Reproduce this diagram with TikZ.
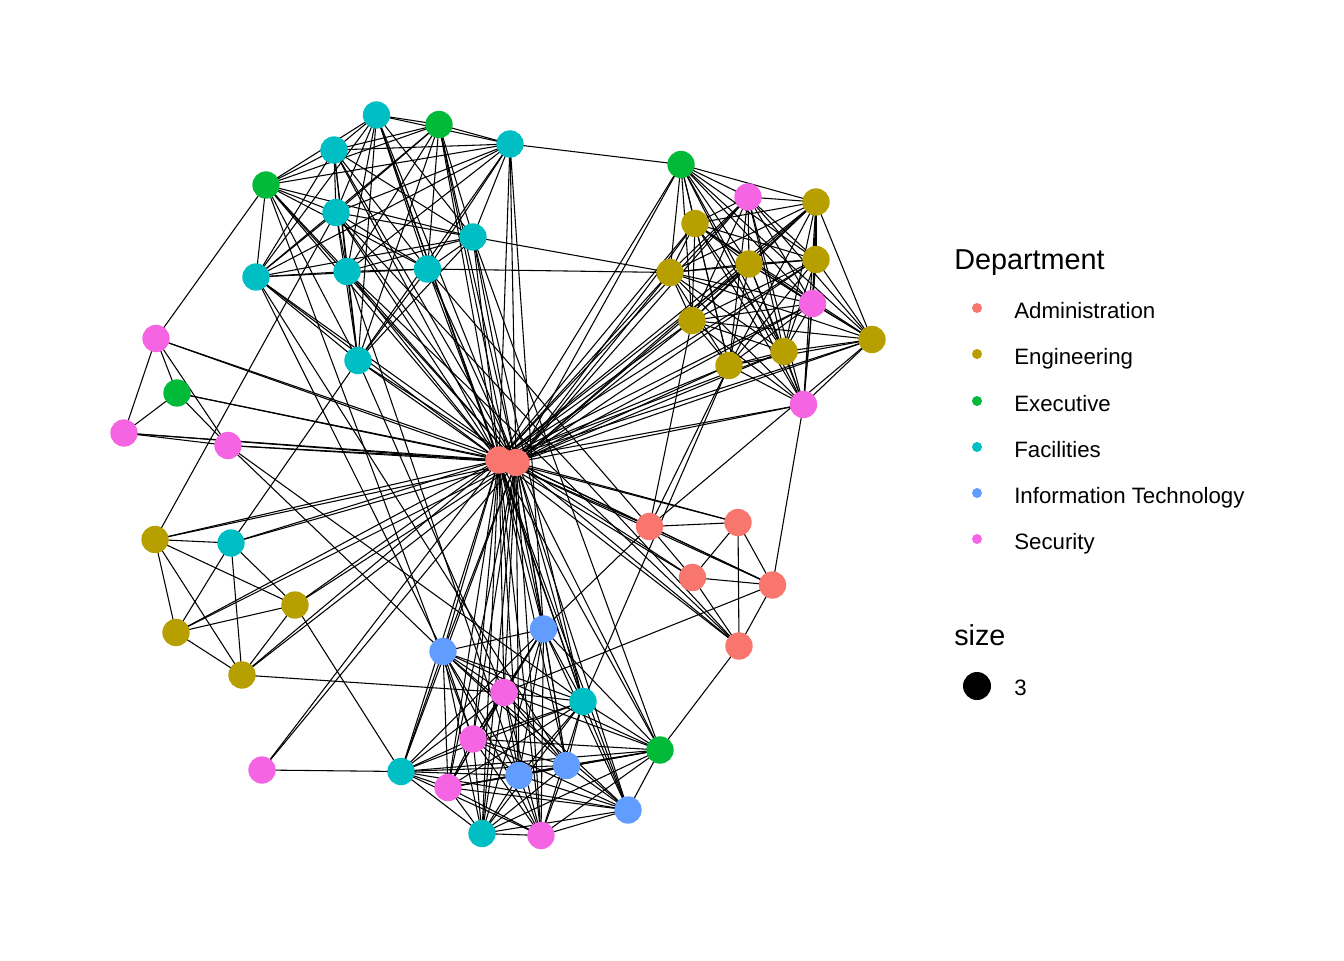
\documentclass[tikz,border=0pt]{standalone}
\usepackage{fontspec}
\setmainfont{Liberation Sans}
\usetikzlibrary{backgrounds}
\definecolor{cadm}{HTML}{F8766D}
\definecolor{ceng}{HTML}{B79F00}
\definecolor{cexe}{HTML}{00BA38}
\definecolor{cfac}{HTML}{00BFC4}
\definecolor{cit}{HTML}{619CFF}
\definecolor{csec}{HTML}{F564E3}
\newcommand\myclique[1]{\foreach \a [count=\i] in {#1} {\foreach \b [count=\j] in {#1} {\ifnum\i<\j \draw[edge] (\a.center) -- (\b.center);\fi}}}
\begin{document}
\begin{tikzpicture}[x=0.75pt,y=-0.75pt,
  vtx/.style={circle,inner sep=0pt,minimum size=20.5pt,draw=none},
  adm/.style={vtx,fill=cadm}, eng/.style={vtx,fill=ceng}, exe/.style={vtx,fill=cexe},
  fac/.style={vtx,fill=cfac}, itn/.style={vtx,fill=cit}, sec/.style={vtx,fill=csec},
  edge/.style={black,line width=0.8pt},
  keydot/.style={circle,inner sep=0pt,minimum size=7.5pt},
  lab/.style={anchor=base west,font=\fontsize{16.7}{20}\selectfont,inner sep=0pt},
  ttl/.style={anchor=base west,font=\fontsize{21.6}{26}\selectfont,inner sep=0pt}]
\useasboundingbox (0,0) rectangle (1344,960);
% hub
\node[adm] (H1) at (499,460) {};
\node[adm] (H2) at (516,462.5) {};
% top-left cluster
\node[fac] (F1) at (376.5,115) {};
\node[fac] (F2) at (334,150) {};
\node[fac] (F3) at (510,144) {};
\node[fac] (F4) at (336,212.5) {};
\node[fac] (F5) at (473,237) {};
\node[fac] (F6) at (256,277) {};
\node[fac] (F7) at (347,271.5) {};
\node[fac] (F8) at (427.5,269) {};
\node[fac] (F9) at (358,360.5) {};
\node[exe] (E1) at (439,124.5) {};
\node[exe] (E2) at (266,185) {};
% left group
\node[sec] (S1) at (156,338.5) {};
\node[exe] (E3) at (177,393) {};
\node[sec] (S2) at (124,433) {};
\node[sec] (S3) at (228,445.5) {};
% top-right cluster
\node[exe] (E4) at (681,164.5) {};
\node[sec] (S5) at (748,197) {};
\node[eng] (O5) at (816,202) {};
\node[eng] (O6) at (695,223.5) {};
\node[eng] (O7) at (670,272.5) {};
\node[eng] (O8) at (749,264) {};
\node[eng] (O9) at (816,259.5) {};
\node[sec] (S6) at (812.5,303.5) {};
\node[eng] (O10) at (692,320.5) {};
\node[eng] (O11) at (784,351.5) {};
\node[eng] (O12) at (729,365.5) {};
\node[eng] (O13) at (872,339.5) {};
\node[sec] (S7) at (803.5,404.5) {};
% lower-left group
\node[eng] (O1) at (155,539.5) {};
\node[fac] (F10) at (231,543) {};
\node[eng] (O2) at (295,605) {};
\node[eng] (O3) at (176,632.5) {};
\node[eng] (O4) at (242,675) {};
\node[sec] (S4) at (262,770) {};
% admin group
\node[adm] (R1) at (649.5,526.5) {};
\node[adm] (R2) at (738,522.5) {};
\node[adm] (R3) at (692.5,577.5) {};
\node[adm] (R4) at (772.5,585) {};
\node[adm] (R5) at (739,646) {};
% bottom cluster
\node[itn] (B1) at (543.5,629) {};
\node[itn] (B2) at (443,651.5) {};
\node[sec] (S8) at (504,692.5) {};
\node[fac] (F12) at (583,701.5) {};
\node[sec] (S9) at (473,739) {};
\node[exe] (E5) at (660,750) {};
\node[fac] (F11) at (401,771.5) {};
\node[sec] (S10) at (448,787.5) {};
\node[itn] (B3) at (519,775.5) {};
\node[itn] (B4) at (566.5,765.5) {};
\node[itn] (B5) at (628,810) {};
\node[fac] (F13) at (482,833.5) {};
\node[sec] (S11) at (541,835.5) {};

\begin{scope}[on background layer]
\draw[edge] (H1.center) -- (H2.center);
\foreach \n in {F1,F2,F3,F4,F5,F6,F7,F8,F9,E1,E2,S1,E3,S2,S3,E4,S5,O5,O6,O7,O8,O9,S6,O10,O11,O12,O13,S7,O1,F10,O2,O3,O4,S4,R1,R2,R3,R4,R5,B1,B2,S8,F12,S9,E5,F11,S10,B3,B4,B5,F13,S11}
  {\draw[edge] (H1.center) -- (\n.center); \draw[edge] (H2.center) -- (\n.center);}
\myclique{F1,F2,F3,F4,F5,F6,F7,F8,F9,E1,E2}
\myclique{E4,S5,O5,O6,O7,O8,O9,S6,O10,O11,O12,O13,S7}
\myclique{S1,E3,S2,S3}
\myclique{O1,F10,O2,O3,O4}
\myclique{B1,B2,S8,F12,S9,E5,F11,S10,B3,B4,B5,F13,S11}
\foreach \a/\b in {R1/R2,R1/R3,R1/R4,R2/R3,R2/R4,R2/R5,R3/R4,R3/R5,R4/R5,
  S1/E2,F3/E4,F5/O7,F8/O7,O1/F4,F10/F9,F6/B2,S3/B2,S3/F12,O4/S8,O2/F11,S4/F11,
  S7/R4,R4/S8,R5/E5,O13/R1,O12/R1,O12/F12,O10/R1,R1/B1,F8/R1,F7/R5,F4/R5,
  F3/B1,F5/F12,E1/B1,F9/S8,F7/B3,F1/F12,F5/E5,E2/S9,F6/B4}
  {\draw[edge] (\a.center) -- (\b.center);}
\end{scope}

% legend
\node[ttl] (dept) at (954,269) {Department};
\node[keydot,fill=cadm] (k1) at (977,308) {};
\node[keydot,fill=ceng] (k2) at (977,354) {};
\node[keydot,fill=cexe] (k3) at (977,401) {};
\node[keydot,fill=cfac] (k4) at (977,447) {};
\node[keydot,fill=cit]  (k5) at (977,493) {};
\node[keydot,fill=csec] (k6) at (977,539) {};
\node[lab] (l1) at (1014,318) {Administration};
\node[lab] (l2) at (1014,364) {Engineering};
\node[lab] (l3) at (1014,411) {Executive};
\node[lab] (l4) at (1014,457) {Facilities};
\node[lab] (l5) at (1014,503) {Information Technology};
\node[lab] (l6) at (1014,549) {Security};
\node[ttl] (sz) at (954,645) {size};
\node[circle,inner sep=0pt,minimum size=21pt,fill=black] (k7) at (977,686) {};
\node[lab] (l7) at (1014,695) {3};
\end{tikzpicture}
\end{document}
